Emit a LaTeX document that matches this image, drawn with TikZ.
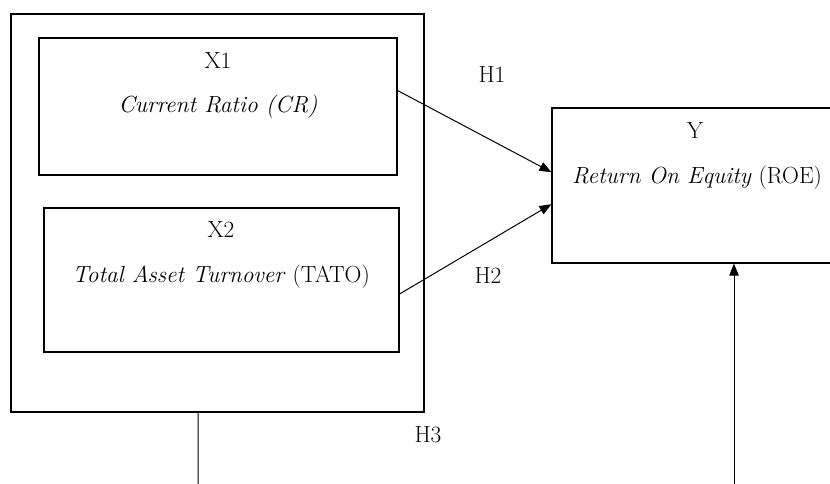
\documentclass[tikz,border=0pt]{standalone}
\usetikzlibrary{calc,positioning,arrows.meta}

\begin{document}
\begin{tikzpicture}[x=0.75pt,y=-0.75pt,
    box/.style={draw,line width=0.8pt,inner sep=0pt},
    lbl/.style={inner sep=1pt,font=\fontsize{17.5}{20}\selectfont},
    link/.style={line width=0.75pt,-{Triangle[length=9pt,width=7pt]}}]

    \useasboundingbox (0,0) rectangle (830,484);
    \clip (0,0) rectangle (830,484);

    % independent variables
    \node[box,minimum width=309.75pt,minimum height=298.5pt] (outer) at (217.5,213) {};
    \node[box,minimum width=268.5pt,minimum height=102.75pt] (x1) at (218,106.5) {};
    \node[box,minimum width=266.25pt,minimum height=108pt] (x2) at (221.5,280) {};

    \node[lbl] (x1id) at (218,61) {X1};
    \node[lbl] (x1name) at (218,107) {\textit{Current Ratio (CR)}};
    \node[lbl] (x2id) at (221,230) {X2};
    \node[lbl] (x2name) at (221,277) {\textit{Total Asset Turnover} (TATO)};

    % dependent variable
    \node[box,minimum width=223.5pt,minimum height=116.25pt] (y) at (701,185.5) {};
    \node[lbl] (yid) at (695,131) {Y};
    \node[lbl] (yname) at (697,178) {\textit{Return On Equity} (ROE)};

    % hypotheses
    \draw[link] ([yshift=12pt]x1.east) -- ([yshift=10pt]y.west);
    \draw[link] ([yshift=-10.5pt]x2.east) -- ([yshift=-14pt]y.west);
    \node[lbl] (h1) at (492,75) {H1};
    \node[lbl] (h2) at (488,276) {H2};
    \node[lbl] (h3) at (428,435) {H3};

    \coordinate (down) at (198,486);
    \coordinate (up) at (734,486);
    \draw[line width=0.75pt] ([xshift=-14.6pt]outer.south) -- (down);
    \draw[link] (up) -- (up |- y.south);

\end{tikzpicture}
\end{document}
